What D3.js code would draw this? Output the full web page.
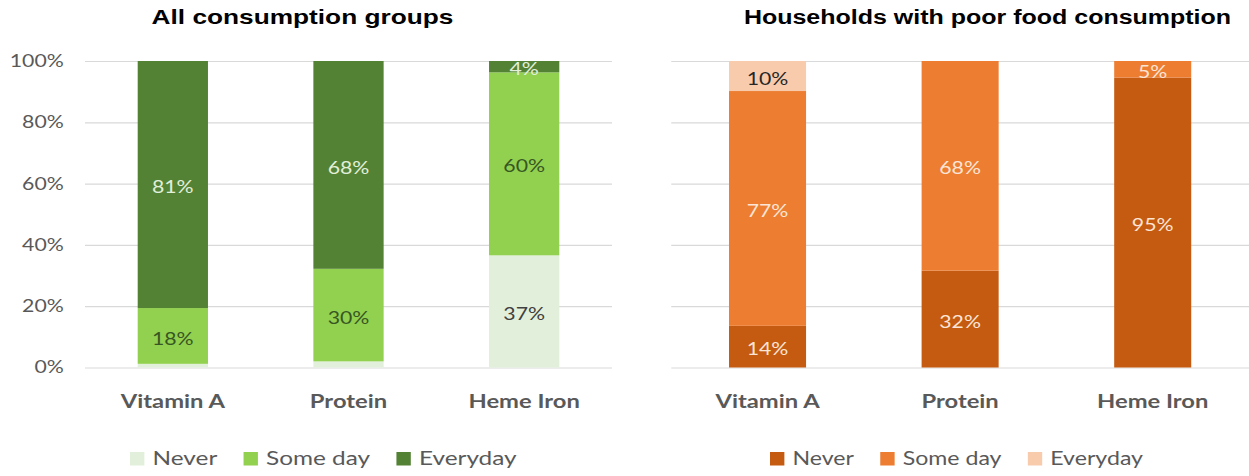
<!DOCTYPE html>
<html>
<head>
<meta charset="utf-8">
<script src="https://cdn.jsdelivr.net/npm/d3@7"></script>
<style>
  body { margin: 0; background: #fff; }
  svg { display: block; }
</style>
</head>
<body>
<svg id="chart"></svg>
<script>

var categories = ["Vitamin A", "Protein", "Heme Iron"];
var seriesNames = ["Never", "Some day", "Everyday"];
var yTicks = [0, 20, 40, 60, 80, 100];

// shares in %
var allNever = [1.2, 2.0, 36.6];
var allSomeDay = [18.2, 30.2, 59.7];
var allEveryday = [80.6, 67.8, 3.7];

var poorNever = [13.6, 31.6, 94.6];
var poorSomeDay = [76.6, 68.4, 5.4];
var poorEveryday = [9.8, 0, 0];

var svgWidth = 1249;
var svgHeight = 476;
var stretch = 1.25; // the source picture is widened, text included
var vbWidth = svgWidth / stretch;

var svg = d3.select("#chart")
    .attr("width", svgWidth)
    .attr("height", svgHeight)
    .attr("viewBox", "0 0 " + vbWidth + " " + svgHeight)
    .attr("preserveAspectRatio", "none")
    .style("font-family", "Lato, 'Open Sans', sans-serif");

var y = d3.scaleLinear().domain([0, 100]).range([367.5, 61]);

var panels = [
    {
        id: "all",
        title: "All consumption groups",
        titleX: 242, titleSize: 21,
        left: 68, right: 489.6,
        series: [allNever, allSomeDay, allEveryday],
        colors: ["#e2efda", "#92d050", "#548235"],
        labelColors: ["#404040", "#375623", "#e2efda"],
        legendX: 104, legendSize: 19.5,
        yLabels: true
    },
    {
        id: "poor",
        title: "Households with poor food consumption",
        titleX: 790, titleSize: 20,
        left: 537, right: vbWidth,
        series: [poorNever, poorSomeDay, poorEveryday],
        colors: ["#c55a11", "#ed7d31", "#f8cbad"],
        labelColors: ["#fbe5d6", "#fbe5d6", "#262626"],
        legendX: 616, legendSize: 18.5,
        yLabels: false
    }
];

panels.forEach(drawPanel);

function drawPanel(p) {
    var rows = categories.map(function (c, i) {
        var r = { cat: c };
        seriesNames.forEach(function (s, j) { r[s] = p.series[j][i]; });
        return r;
    });
    var stacked = d3.stack().keys(seriesNames)(rows);

    var x = d3.scaleBand().domain(categories)
        .range([p.left, p.right])
        .paddingInner(0.6).paddingOuter(0.3);

    var g = svg.append("g");

    // title
    g.append("text")
        .attr("x", p.titleX)
        .attr("y", 24)
        .attr("text-anchor", "middle")
        .style("font-family", "'Liberation Sans', Arial, sans-serif")
        .style("font-weight", "bold")
        .style("font-size", p.titleSize + "px")
        .style("fill", "#000")
        .text(p.title);

    // grid lines
    var grid = g.append("g")
        .attr("transform", "translate(" + p.left + ",0)")
        .call(d3.axisLeft(y).tickValues(yTicks).tickSize(-(p.right - p.left)).tickFormat(""));
    grid.select(".domain").remove();
    grid.selectAll("line").attr("stroke", "#d9d9d9").attr("stroke-width", 1.2);

    if (p.yLabels) {
        var ya = g.append("g")
            .attr("transform", "translate(51,0)")
            .call(d3.axisLeft(y).tickValues(yTicks).tickSize(0).tickPadding(0)
                .tickFormat(function (d) { return d + "%"; }));
        ya.select(".domain").remove();
        ya.selectAll("text")
            .style("font-family", "Lato, sans-serif")
            .style("font-size", "17px")
            .style("fill", "#595959");
    }

    // x axis labels
    var xa = g.append("g")
        .attr("transform", "translate(0," + y(0) + ")")
        .call(d3.axisBottom(x).tickSize(0));
    xa.select(".domain").remove();
    xa.selectAll("text")
        .attr("y", 41)
        .attr("dy", null)
        .style("font-family", "Lato, sans-serif")
        .style("font-weight", "bold")
        .style("font-size", "19px")
        .style("fill", "#595959");

    g.append("defs").append("clipPath")
        .attr("id", "clip-" + p.id)
        .append("rect")
        .attr("x", p.left)
        .attr("y", 60.5)
        .attr("width", p.right - p.left)
        .attr("height", 330);

    var plot = g.append("g").attr("clip-path", "url(#clip-" + p.id + ")");

    var layers = plot.selectAll(".layer")
        .data(stacked)
        .enter().append("g")
        .attr("class", "layer");

    layers.selectAll("rect")
        .data(function (d) { return d; })
        .enter().append("rect")
        .attr("x", function (d) { return x(d.data.cat); })
        .attr("width", x.bandwidth())
        .attr("y", function (d) { return y(d[1]); })
        .attr("height", function (d) { return y(d[0]) - y(d[1]); })
        .attr("fill", function (d) { return p.colors[seriesNames.indexOf(this.parentNode.__data__.key)]; });

    layers.each(function (layer, j) {
        d3.select(this).selectAll("text")
            .data(layer.filter(function (d) { return d[1] - d[0] >= 3; }))
            .enter().append("text")
            .attr("x", function (d) { return x(d.data.cat) + x.bandwidth() / 2; })
            .attr("y", function (d) { return (y(d[0]) + y(d[1])) / 2 + 2; })
            .attr("text-anchor", "middle")
            .attr("dominant-baseline", "central")
            .style("font-size", "17px")
            .style("fill", p.labelColors[j])
            .text(function (d) { return Math.round(d[1] - d[0]) + "%"; });
    });

    // legend
    var lg = g.append("g").attr("transform", "translate(" + p.legendX + ",0)");
    var cx = 0;
    seriesNames.forEach(function (s, j) {
        var item = lg.append("g").attr("transform", "translate(" + cx + ",0)");
        item.append("rect")
            .attr("x", 0).attr("y", 452)
            .attr("width", 11.5).attr("height", 13.5)
            .attr("fill", p.colors[j]);
        var t = item.append("text")
            .attr("x", 18)
            .attr("y", 465)
            .style("font-size", p.legendSize + "px")
            .style("fill", "#595959")
            .text(s);
        cx += 18 + t.node().getComputedTextLength() + 21;
    });
}
</script>
</body>
</html>
